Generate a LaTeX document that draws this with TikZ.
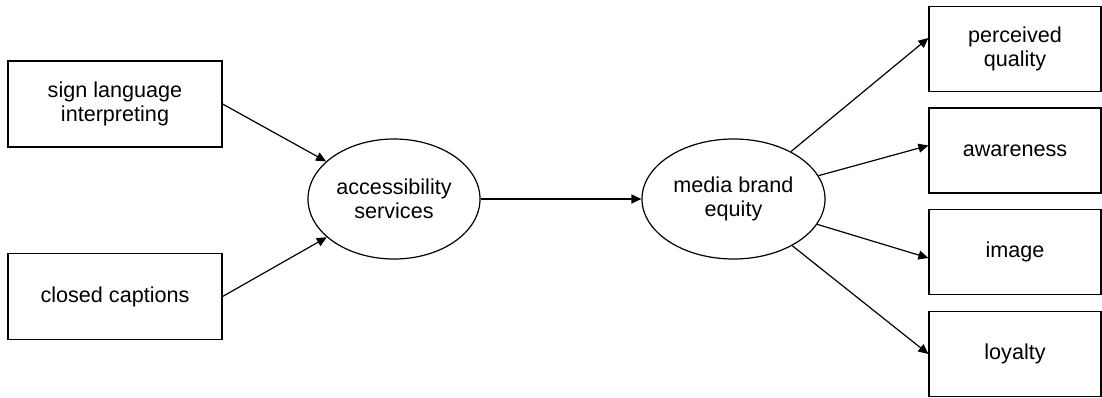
\documentclass[tikz,border=0pt]{standalone}
\usepackage{fontspec}
\setmainfont{Liberation Sans}
\usetikzlibrary{shapes.geometric, arrows.meta}

\begin{document}
\begin{tikzpicture}[
    x=0.5pt, y=-0.5pt,
    every node/.style={font=\fontsize{10.8}{12.2}\selectfont, align=center},
    source/.style={rectangle, draw, line width=0.6pt, minimum width=107pt, minimum height=43pt, inner sep=0pt},
    factor/.style={ellipse, draw, line width=0.6pt, minimum height=60pt, inner sep=0pt},
    facet/.style={rectangle, draw, line width=0.6pt, minimum width=86pt, minimum height=42.5pt, inner sep=0pt},
    link/.style={-{Triangle[length=5pt, width=4.5pt]}, line width=0.6pt}
]
    \useasboundingbox (0,0) rectangle (1102,397);

    % Inputs on the left
    \node[source] (slp) at (115,104) {sign language\\interpreting};
    \node[source] (cc) at (115,296.5) {closed captions};

    % Latent constructs
    \node[factor, minimum width=86pt] (acc) at (394,199) {accessibility\\services};
    \node[factor, minimum width=91.5pt] (mbe) at (733.5,199) {media brand\\equity};

    % Dimensions on the right
    \node[facet] (pq) at (1015,49) {perceived\\quality};
    \node[facet] (aw) at (1015,150.5) {awareness};
    \node[facet] (img) at (1015,252) {image};
    \node[facet] (loy) at (1015,354) {loyalty};

    % Edges
    \draw[link] (slp.east) -- (acc);
    \draw[link] (cc.east) -- (acc);
    \draw[link] (acc) -- (mbe);

    \draw[link] (mbe) -- ([yshift=5.5pt]pq.west);
    \draw[link] (mbe) -- ([yshift=2.5pt]aw.west);
    \draw[link] (mbe) -- ([yshift=-3pt]img.west);
    \draw[link] (mbe) -- (loy.west);
\end{tikzpicture}
\end{document}
